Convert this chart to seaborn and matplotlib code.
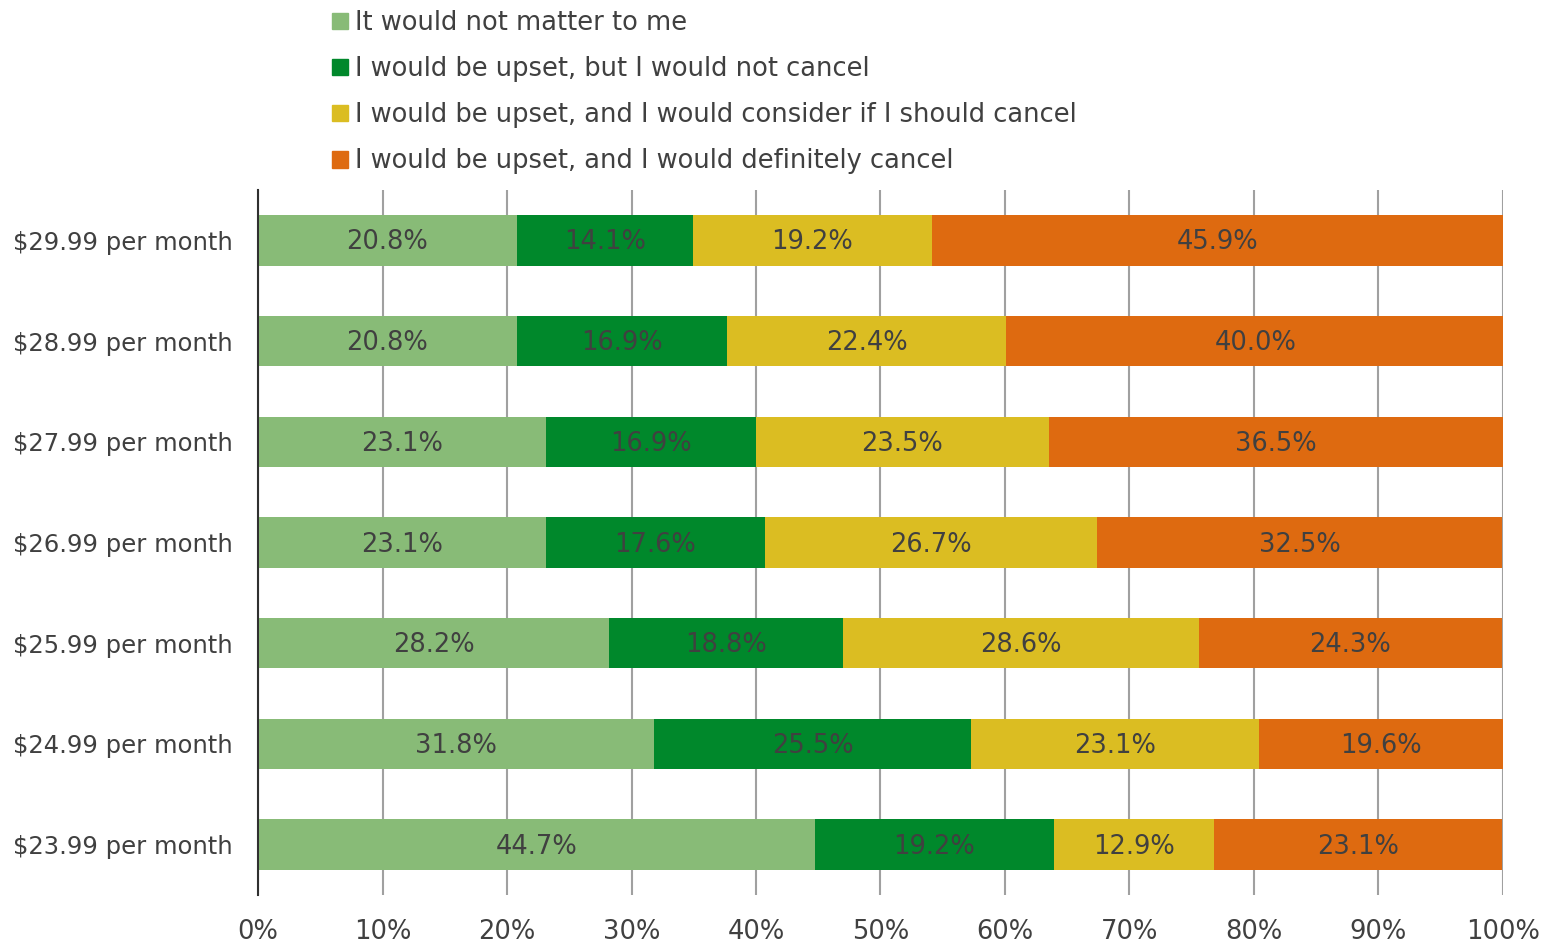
import seaborn as sns
import matplotlib.pyplot as plt
import numpy as np
import pandas as pd

# Survey answers per price point (percent of respondents)
prices = ['$29.99 per month', '$28.99 per month', '$27.99 per month', '$26.99 per month',
          '$25.99 per month', '$24.99 per month', '$23.99 per month']
responses = ['It would not matter to me',
             'I would be upset, but I would not cancel',
             'I would be upset, and I would consider if I should cancel',
             'I would be upset, and I would definitely cancel']
no_matter = [20.8, 20.8, 23.1, 23.1, 28.2, 31.8, 44.7]
upset_keep = [14.1, 16.9, 16.9, 17.6, 18.8, 25.5, 19.2]
upset_consider = [19.2, 22.4, 23.5, 26.7, 28.6, 23.1, 12.9]
upset_cancel = [45.9, 40.0, 36.5, 32.5, 24.3, 19.6, 23.1]
colors = ['#88BB77', '#00882B', '#DBBD22', '#DE6A10']

series = np.array([no_matter, upset_keep, upset_consider, upset_cancel])
cum = np.cumsum(series, axis=0)

sns.set_style('white')
plt.rcParams['font.family'] = ['DejaVu Sans']
text_col = '#404040'
fs = 18.5

fig = plt.figure(figsize=(15.57, 9.46), dpi=100)
ax = fig.add_axes([258 / 1557, 1 - 895 / 946, (1503 - 258) / 1557, (895 - 190) / 946])

# stacked bars: draw cumulative totals from the last series back to the first
for i in range(3, -1, -1):
    df = pd.DataFrame({'price': prices, 'value': cum[i]})
    sns.barplot(data=df, x='value', y='price', order=prices, color=colors[i],
                width=0.5, saturation=1, linewidth=0, ax=ax, zorder=2)

# value labels in the middle of each segment
for i in range(4):
    for j, p in enumerate(prices):
        left = cum[i][j] - series[i][j]
        ax.text(left + series[i][j] / 2, j + 0.02, f'{series[i][j]:.1f}%', ha='center',
                va='center', fontsize=fs, color=text_col, zorder=3)

ax.set_xlim(0, 100)
ax.set_ylim(6.5, -0.5)
ax.set_xticks(np.arange(0, 101, 10))
ax.set_xticklabels([f'{t}%' for t in range(0, 101, 10)], fontsize=fs, color=text_col)
ax.tick_params(axis='y', labelsize=17.5, labelcolor=text_col, length=0, pad=18)
ax.tick_params(axis='x', length=0, pad=17)
ax.set_xlabel('')
ax.set_ylabel('')
ax.xaxis.grid(True, color='#A0A0A0', linewidth=1.5, zorder=0)
ax.set_axisbelow(True)
for s in ['top', 'right', 'bottom']:
    ax.spines[s].set_visible(False)
ax.spines['left'].set_color('#303030')
ax.spines['left'].set_linewidth(1.5)

handles = [plt.Rectangle((0, 0), 1, 1, color=c) for c in colors]
fig.legend(handles, responses, loc='upper left', bbox_to_anchor=(322 / 1557, 1.0),
           frameon=False, fontsize=fs, handlelength=0.6, handleheight=0.6,
           handletextpad=0.3, labelspacing=0.78, labelcolor=text_col, borderaxespad=0)

fig.savefig('out.png', dpi=100)
